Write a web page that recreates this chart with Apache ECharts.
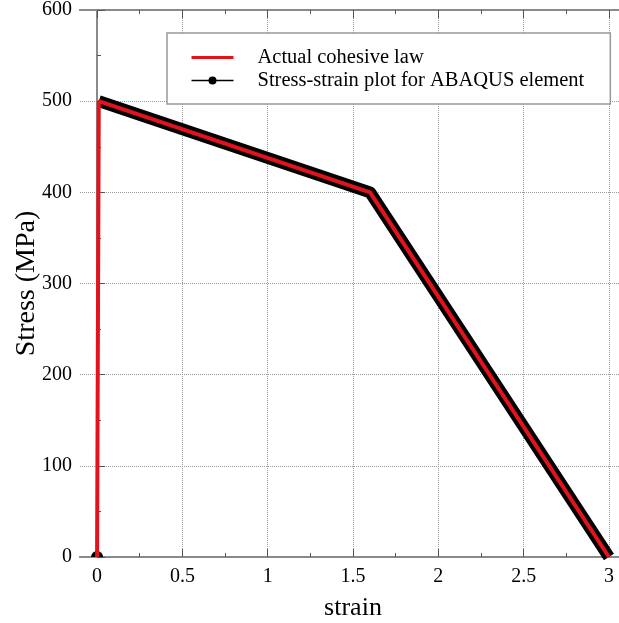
<!DOCTYPE html>
<html>
<head>
<meta charset="utf-8">
<script src="https://cdn.jsdelivr.net/npm/echarts@6/dist/echarts.min.js"></script>
<style>
html,body{margin:0;padding:0;background:#fff;}
#chart{width:619px;height:623px;}
</style>
</head>
<body>
<div id="chart"></div>
<script>
// ---- data ----
var seriesNames = ['Actual cohesive law', 'Stress-strain plot for ABAQUS element'];
var cohesiveStrain = [0, 0.01, 1.6, 3];
var cohesiveStress = [0, 500, 400, 0];
var abaqusStrain = [0, null, 0.01, 1.6, 3];
var abaqusStress = [0, null, 500, 400, 0];
var xTicks = [0, 0.5, 1, 1.5, 2, 2.5, 3];
var xMinorTicks = [0.25, 0.75, 1.25, 1.75, 2.25, 2.75];
var yTicks = [0, 100, 200, 300, 400, 500, 600];

function pairs(xs, ys) {
  return xs.map(function (x, i) {
    return (x === null || ys[i] === null) ? ['-', '-'] : [x, ys[i]];
  });
}

var FONT = 'Liberation Serif';
var axisGray = '#8a8a8a';
var tickGray = '#555';

function xAxisDef(pos, ticks, len, withLabels, withSplit) {
  return {
    type: 'value', position: pos, min: -0.1, max: 3.1,
    axisLine: {show: true, onZero: false, lineStyle: {color: axisGray, width: 2}},
    axisTick: {show: true, inside: true, length: len, customValues: ticks, lineStyle: {color: tickGray, width: 1}},
    axisLabel: withLabels ? {show: true, customValues: ticks, fontSize: 20, color: '#000', fontFamily: FONT, margin: 10} : {show: false},
    splitLine: withSplit ? {show: true, lineStyle: {type: 'dotted', color: '#999', width: 1}} : {show: false},
    minorTick: {show: false}
  };
}

var xAxes = [
  xAxisDef('bottom', xTicks, 8, true, true),
  xAxisDef('bottom', xMinorTicks, 4, false, false),
  xAxisDef('top', xTicks, 8, false, false),
  xAxisDef('top', xMinorTicks, 4, false, false)
];
xAxes[0].name = 'strain';
xAxes[0].nameLocation = 'middle';
xAxes[0].nameGap = 38;
xAxes[0].nameMoveOverlap = false;
xAxes[0].nameTextStyle = {fontSize: 26, color: '#000', fontFamily: FONT};

// black series data: first point drawn as a half disc sitting on the axis
var abaqusData = pairs(abaqusStrain, abaqusStress).map(function (d, i) {
  if (i === 0) {
    return {value: d, symbol: 'path://M0,10 A10,10 0 0 1 20,10 Z', symbolSize: [12, 6], symbolOffset: [0, -3]};
  }
  return d;
});

var chart = echarts.init(document.getElementById('chart'));
chart.setOption({
  animation: false,
  backgroundColor: '#fff',
  textStyle: {fontFamily: FONT},
  grid: {left: 80, right: -7, top: 10, bottom: 66, containLabel: false, outerBoundsMode: 'none'},
  legend: {
    orient: 'vertical', left: 167, top: 33,
    padding: [14, 26, 13, 23],
    itemWidth: 42, itemHeight: 10, itemGap: 2,
    borderColor: '#999', borderWidth: 1.5, backgroundColor: '#fff',
    textStyle: {fontSize: 20.5, color: '#000', fontFamily: FONT, padding: [0, 0, 0, 19]},
    data: [
      {name: seriesNames[0], lineStyle: {width: 3}, itemStyle: {opacity: 0}},
      {name: seriesNames[1], lineStyle: {width: 1.5}}
    ]
  },
  xAxis: xAxes,
  yAxis: {
    type: 'value', min: 0, max: 600, interval: 100,
    name: 'Stress (MPa)', nameLocation: 'middle', nameGap: 39, nameMoveOverlap: false,
    nameTextStyle: {fontSize: 28, color: '#000', fontFamily: FONT},
    axisLine: {show: true, lineStyle: {color: axisGray, width: 2}},
    axisTick: {show: true, inside: true, length: 8, lineStyle: {color: tickGray}},
    minorTick: {show: true, splitNumber: 2, length: 4, lineStyle: {color: tickGray}},
    axisLabel: {fontSize: 20, color: '#000', fontFamily: FONT, margin: 8},
    splitLine: {show: true, lineStyle: {type: 'dotted', color: '#999', width: 1}}
  },
  series: [
    {
      name: seriesNames[1], type: 'line', xAxisIndex: 0,
      data: abaqusData,
      connectNulls: false,
      symbol: 'circle',
      symbolSize: function (v, p) { return p.dataIndex === 0 ? 12 : 0; },
      showSymbol: true,
      itemStyle: {color: '#000'},
      lineStyle: {color: '#000', width: 12, join: 'round'},
      z: 2
    },
    {
      name: seriesNames[0], type: 'line', xAxisIndex: 0,
      data: pairs(cohesiveStrain, cohesiveStress),
      symbol: 'none',
      itemStyle: {color: '#e3121b'},
      lineStyle: {color: '#e3121b', width: 4},
      z: 3
    }
  ]
});
</script>
</body>
</html>
